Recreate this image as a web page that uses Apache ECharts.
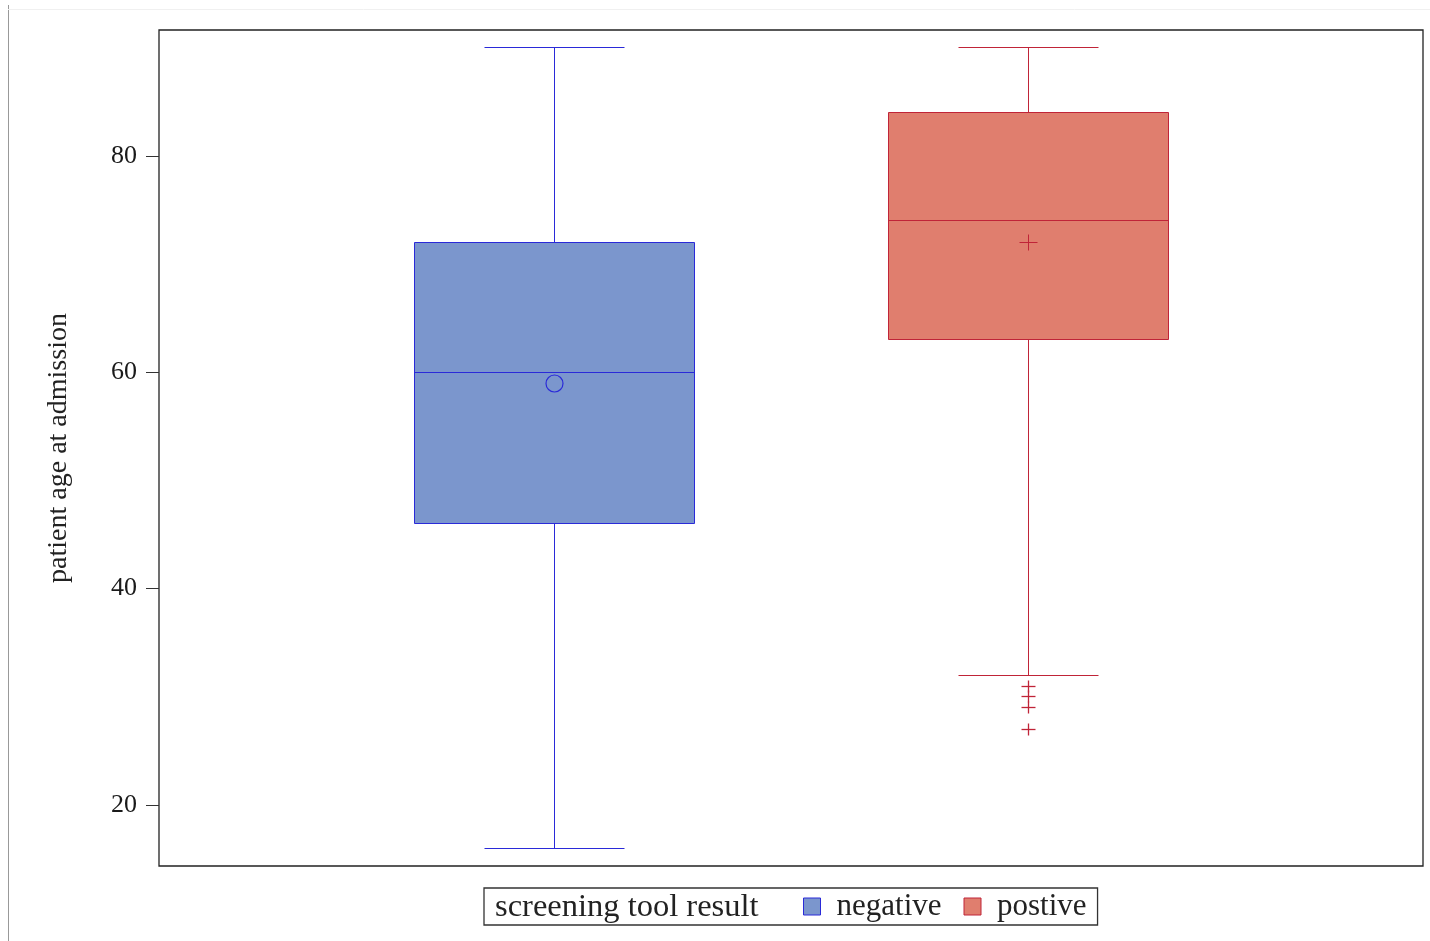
<!DOCTYPE html>
<html>
<head>
<meta charset="utf-8">
<script src="https://cdn.jsdelivr.net/npm/echarts@6/dist/echarts.min.js"></script>
<style>
html,body{margin:0;padding:0;background:#fff;}
#chart{width:1430px;height:941px;}
</style>
</head>
<body>
<div id="chart"></div>
<script>
// ---- data ----
const categories = ['negative', 'postive'];
const whiskerLow = [16, 32];
const q1 = [46, 63];
const median = [60, 74];
const q3 = [72, 84];
const whiskerHigh = [90, 90];
const means = [59, 72];
const outliersPositive = [31, 30, 29, 27];
const yTicks = [20, 40, 60, 80];

// ---- styles ----
const fills = ['#7b96cd', '#e07e6e'];
const strokes = ['#2a2ad8', '#c02438'];
const meanSymbols = ['circle', 'plus'];
const serif = '"Liberation Serif", "DejaVu Serif", serif';

function px(v) { return Math.round(v - 0.5) + 0.5; }

function makeBox(idx) {
  return function (params, api) {
    const x = api.value(0);
    const band = api.size([1, 0])[0];
    const hw = band * 0.296, cw = band * 0.147;
    const yLow = px(api.coord([x, api.value(1)])[1]);
    const yQ1 = px(api.coord([x, api.value(2)])[1]);
    const yMed = px(api.coord([x, api.value(3)])[1]);
    const yQ3 = px(api.coord([x, api.value(4)])[1]);
    const yHigh = px(api.coord([x, api.value(5)])[1]);
    const yMean = px(api.coord([x, api.value(6)])[1]);
    const cx = px(api.coord([x, api.value(3)])[0]);
    const ls = { stroke: strokes[idx], lineWidth: 1 };
    const bl = px(cx - hw), br = px(cx + hw);
    const children = [
      { type: 'line', shape: { x1: cx, y1: yHigh, x2: cx, y2: yQ3 }, style: ls },
      { type: 'line', shape: { x1: cx, y1: yQ1, x2: cx, y2: yLow }, style: ls },
      { type: 'line', shape: { x1: px(cx - cw), y1: yHigh, x2: px(cx + cw), y2: yHigh }, style: ls },
      { type: 'line', shape: { x1: px(cx - cw), y1: yLow, x2: px(cx + cw), y2: yLow }, style: ls },
      { type: 'rect', shape: { x: bl, y: yQ3, width: br - bl, height: yQ1 - yQ3 },
        style: { fill: fills[idx], stroke: strokes[idx], lineWidth: 1 } },
      { type: 'line', shape: { x1: bl, y1: yMed, x2: br, y2: yMed }, style: ls }
    ];
    if (meanSymbols[idx] === 'circle') {
      children.push({ type: 'circle', shape: { cx: cx, cy: yMean, r: 8.5 },
        style: { fill: 'none', stroke: strokes[idx], lineWidth: 1.2 } });
    } else {
      children.push({ type: 'line', shape: { x1: cx - 9, y1: yMean, x2: cx + 9, y2: yMean }, style: ls });
      children.push({ type: 'line', shape: { x1: cx, y1: yMean - 8, x2: cx, y2: yMean + 8 }, style: ls });
    }
    return { type: 'group', children: children };
  };
}

function renderOutlier(params, api) {
  const p = api.coord([api.value(0), api.value(1)]);
  const x = px(p[0]), y = px(p[1]);
  const ls = { stroke: strokes[1], lineWidth: 1.3 };
  return { type: 'group', children: [
    { type: 'line', shape: { x1: x - 7, y1: y, x2: x + 7, y2: y }, style: ls },
    { type: 'line', shape: { x1: x, y1: y - 6, x2: x, y2: y + 6 }, style: ls }
  ]};
}

const series = categories.map((name, i) => ({
  type: 'custom',
  name: name,
  renderItem: makeBox(i),
  itemStyle: { color: fills[i], borderColor: strokes[i] },
  encode: { x: 0, y: [1, 2, 3, 4, 5] },
  data: [[i + 1, whiskerLow[i], q1[i], median[i], q3[i], whiskerHigh[i], means[i]]],
  z: 2
}));
series.push({
  type: 'custom',
  name: 'postive outliers',
  renderItem: renderOutlier,
  encode: { x: 0, y: 1 },
  data: outliersPositive.map(v => [2, v]),
  z: 3
});

const chart = echarts.init(document.getElementById('chart'));
chart.setOption({
  animation: false,
  backgroundColor: '#fff',
  grid: { left: 159, top: 30, width: 1264, height: 836, show: true, borderColor: '#222', borderWidth: 1.3, backgroundColor: 'transparent' },
  xAxis: {
    type: 'value', min: 1 / 6, max: 17 / 6,
    axisLine: { show: false }, axisTick: { show: false }, axisLabel: { show: false }, splitLine: { show: false }
  },
  yAxis: {
    type: 'value', min: 14.36, max: 91.65,
    name: 'patient age at admission', nameLocation: 'middle', nameGap: 86,
    nameTextStyle: { fontFamily: serif, fontSize: 28, color: '#222' },
    axisLine: { show: false },
    splitLine: { show: false },
    axisTick: { show: true, customValues: yTicks, length: 13, lineStyle: { color: '#333' } },
    axisLabel: { customValues: yTicks, fontFamily: serif, fontSize: 26, color: '#1a1a1a', margin: 22 }
  },
  legend: {
    data: categories.map((n, i) => ({ name: n, itemStyle: { color: fills[i], borderColor: strokes[i], borderWidth: 1 } })),
    left: 484, top: 888,
    orient: 'horizontal',
    icon: 'rect', itemWidth: 17, itemHeight: 17, itemGap: 22,
    padding: [3, 11, 3, 319],
    borderColor: '#333', borderWidth: 1.3,
    selectedMode: false,
    textStyle: { fontFamily: serif, fontSize: 31, color: '#222', lineHeight: 31, padding: [0, 0, 0, 11] }
  },
  graphic: [
    { type: 'text', left: 495, top: 891, style: { text: 'screening tool result', font: '32.5px ' + serif, fill: '#222' } },
    { type: 'line', shape: { x1: 8.5, y1: 5, x2: 8.5, y2: 941 }, style: { stroke: '#999', lineWidth: 1 } },
    { type: 'line', shape: { x1: 8, y1: 9.5, x2: 1430, y2: 9.5 }, style: { stroke: '#f0f0f0', lineWidth: 1 } }
  ],
  series: series
});
</script>
</body>
</html>
